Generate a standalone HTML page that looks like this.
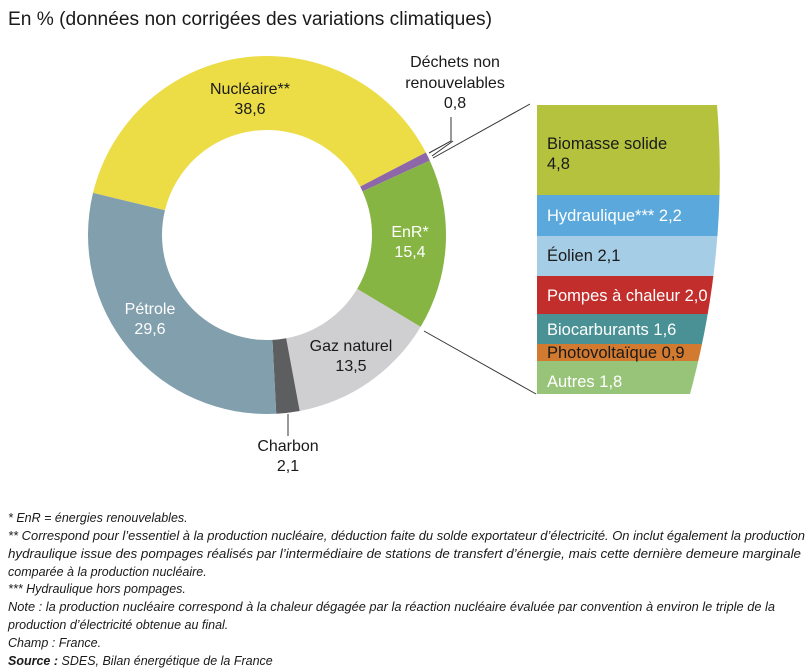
<!DOCTYPE html>
<html><head><meta charset="utf-8"><style>
body{margin:0;background:#fff;}
svg{display:block;font-family:"Liberation Sans",Arial,sans-serif;}
</style></head><body>
<svg id="s" width="811" height="672" viewBox="0 0 811 672">
<text x="8" y="25" font-size="19" fill="#1a1a1a" textLength="484" lengthAdjust="spacingAndGlyphs">En % (données non corrigées des variations climatiques)</text>
<g id="donut"></g>
<defs><clipPath id="bc"><path d="M537,105 L717,105 Q729,250 690,394 L537,394 Z"/></clipPath></defs>
<g clip-path="url(#bc)">
<rect x="537" y="105" width="200" height="90" fill="#b4c23e"/>
<rect x="537" y="195" width="200" height="41" fill="#5aa8dc"/>
<rect x="537" y="236" width="200" height="40" fill="#a6cde6"/>
<rect x="537" y="276" width="200" height="38" fill="#c22e2b"/>
<rect x="537" y="314" width="200" height="30" fill="#4a9195"/>
<rect x="537" y="344" width="200" height="17" fill="#d27a2f"/>
<rect x="537" y="361" width="200" height="33" fill="#98c47a"/>
</g>
<g font-size="16.5">
<text x="547" y="149" fill="#1a1a1a">Biomasse solide</text>
<text x="547" y="169" fill="#1a1a1a">4,8</text>
<text x="547" y="221" fill="#fff">Hydraulique*** 2,2</text>
<text x="547" y="261" fill="#1a1a1a">Éolien 2,1</text>
<text x="547" y="301" fill="#fff">Pompes à chaleur 2,0</text>
<text x="547" y="335" fill="#fff">Biocarburants 1,6</text>
<text x="547" y="358" fill="#1a1a1a">Photovoltaïque 0,9</text>
<text x="547" y="387" fill="#fff">Autres 1,8</text>
</g>
<g stroke="#333" stroke-width="1" fill="none">
<line x1="530" y1="104" x2="433" y2="158"/>
<line x1="424" y1="331" x2="536" y2="394"/>
<polyline points="451,117 451,141 429,153"/>
<line x1="453" y1="141" x2="432" y2="156"/>
<line x1="288" y1="414" x2="288" y2="436"/>
</g>
<g font-size="16" text-anchor="middle">
<text x="250" y="94" fill="#1a1a1a">Nucléaire**</text>
<text x="250" y="114" fill="#1a1a1a">38,6</text>
<text x="455" y="67" fill="#1a1a1a">Déchets non</text>
<text x="455" y="88" fill="#1a1a1a">renouvelables</text>
<text x="455" y="108" fill="#1a1a1a">0,8</text>
<text x="410" y="237" fill="#fff">EnR*</text>
<text x="410" y="257" fill="#fff">15,4</text>
<text x="150" y="314" fill="#fff">Pétrole</text>
<text x="150" y="334" fill="#fff">29,6</text>
<text x="351" y="351" fill="#1a1a1a">Gaz naturel</text>
<text x="351" y="371" fill="#1a1a1a">13,5</text>
<text x="288" y="451" fill="#1a1a1a">Charbon</text>
<text x="288" y="471" fill="#1a1a1a">2,1</text>
</g>
<g font-size="12.5" font-style="italic" fill="#1a1a1a">
<text x="8" y="522">* EnR = énergies renouvelables.</text>
<text x="8" y="540" textLength="797" lengthAdjust="spacingAndGlyphs">** Correspond pour l’essentiel à la production nucléaire, déduction faite du solde exportateur d’électricité. On inclut également la production</text>
<text x="8" y="558" textLength="793" lengthAdjust="spacingAndGlyphs">hydraulique issue des pompages réalisés par l’intermédiaire de stations de transfert d’énergie, mais cette dernière demeure marginale</text>
<text x="8" y="576">comparée à la production nucléaire.</text>
<text x="8" y="593">*** Hydraulique hors pompages.</text>
<text x="8" y="611" textLength="767" lengthAdjust="spacingAndGlyphs">Note : la production nucléaire correspond à la chaleur dégagée par la réaction nucléaire évaluée par convention à environ le triple de la</text>
<text x="8" y="629">production d’électricité obtenue au final.</text>
<text x="8" y="647">Champ : France.</text>
<text x="8" y="665"><tspan font-weight="bold">Source :</tspan> SDES, Bilan énergétique de la France</text>
</g>
</svg>
<script>
(function(){
var cx=267,cy=235,R=179,r=105,a=-76.4;
var segs=[[38.6,"#ecdc45"],[0.8,"#8e67a8"],[15.4,"#86b544"],[13.5,"#cfcfd1"],[2.1,"#5d5e60"],[29.6,"#819fad"]];
function p(rad,deg){var t=deg*Math.PI/180;return [cx+rad*Math.sin(t),cy-rad*Math.cos(t)];}
var g=document.getElementById("donut"),h="";
segs.forEach(function(s){var b=a+s[0]*3.6;var l=(b-a)>180?1:0;
var A=p(R,a),B=p(R,b),C=p(r,b),D=p(r,a);
h+='<path fill="'+s[1]+'" d="M'+A+' A'+R+','+R+' 0 '+l+' 1 '+B+' L'+C+' A'+r+','+r+' 0 '+l+' 0 '+D+' Z"/>';a=b;});
g.innerHTML=h;
})();
</script>
</body></html>
